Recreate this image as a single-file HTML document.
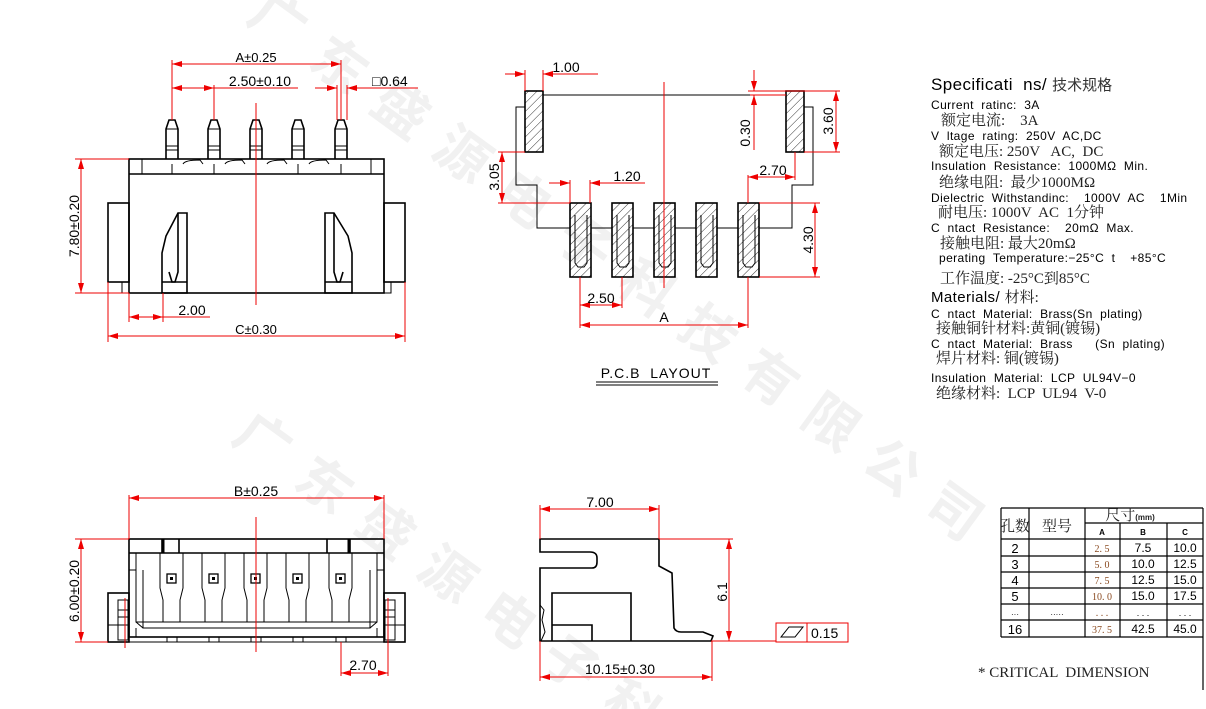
<!DOCTYPE html>
<html><head><meta charset="utf-8"><style>
html,body{margin:0;padding:0;background:#fff;overflow:hidden;width:1206px;height:709px;}
svg{display:block;overflow:hidden;}
text{white-space:pre;}
.k{stroke:#000;stroke-width:1.6;fill:none;}
.kt{stroke:#000;stroke-width:1;fill:none;}
.r{stroke:#e00;stroke-width:1;fill:none;}
.rt{fill:#000;font-family:"Liberation Sans",sans-serif;}
.sp{font-family:"Liberation Sans","Noto Sans CJK SC",sans-serif;fill:#000;font-size:12px;letter-spacing:0.4px;}
.cn{font-family:"Liberation Serif","Noto Serif CJK SC",serif;fill:#222;font-size:15px;letter-spacing:0;}
.wm{font-family:"Noto Sans CJK SC",sans-serif;fill:#f1f1f1;font-size:54px;font-weight:bold;}
</style></head><body>
<svg width="1206" height="709" viewBox="0 0 1206 709" xmlns="http://www.w3.org/2000/svg" xml:space="preserve">
<defs>
<marker id="a" viewBox="0 0 10 6" refX="10" refY="3" markerWidth="10" markerHeight="6" orient="auto-start-reverse"><path d="M0,0L10,3L0,6z" fill="#e00"/></marker>
<pattern id="h" width="6" height="6" patternUnits="userSpaceOnUse" patternTransform="rotate(45)"><line x1="0" y1="0" x2="0" y2="6" stroke="#000" stroke-width="0.8"/></pattern>
</defs>
<text class="wm" transform="translate(245,20) rotate(36)" letter-spacing="22">广东盛源电子科技有限公司</text>
<text class="wm" transform="translate(230,440) rotate(36)" letter-spacing="22">广东盛源电子科技有</text>

<!-- ===== TOP-LEFT VIEW ===== -->
<g>
<rect class="k" x="129" y="159" width="255" height="134"/>
<line class="k" x1="129" y1="174" x2="384" y2="174"/>
<line class="kt" x1="142" y1="159" x2="142" y2="174"/>
<line class="kt" x1="371" y1="159" x2="371" y2="174"/>
<rect class="k" x="108" y="203" width="21" height="79"/>
<rect class="k" x="384" y="203" width="21" height="79"/>
<rect class="kt" x="122" y="282" width="7" height="11"/>
<rect class="kt" x="384" y="282" width="7" height="11"/>
<g class="kt">
<path d="M172,174V164M214,174V164M256,174V164M298,174V164M341,174V164"/>
<path d="M183,164Q185,160 200,160L203,164M225,164Q227,160 242,160L245,164M267,164Q269,160 284,160L287,164M309,164Q311,160 326,160L329,164"/>
</g>
<g class="k">
<path d="M166,159V129L169,120H175L178,129V159"/>
<path d="M208,159V129L211,120H217L220,129V159"/>
<path d="M250,159V129L253,120H259L262,129V159"/>
<path d="M292,159V129L295,120H301L304,129V159"/>
<path d="M335,159V129L338,120H344L347,129V159"/>
</g>
<g class="kt">
<path d="M166,146H178M166,150H178M208,146H220M208,150H220M250,146H262M250,150H262M292,146H304M292,150H304M335,146H347M335,150H347M166,129H178M208,129H220M250,129H262M292,129H304M335,129H347"/>
</g>
<g class="k">
<path d="M178,213H187V293H162V253L166,236L178,213Z"/>
<path d="M178,213V272L175,282H172L169,272"/>
<line x1="162" y1="282" x2="187" y2="282"/>
<path d="M334,213H325V293H352V253L348,236L334,213Z"/>
<path d="M334,213V272L337,282H340L343,272"/>
<line x1="325" y1="282" x2="352" y2="282"/>
</g>
<line class="r" x1="256" y1="103" x2="256" y2="305"/>
<path class="r" d="M172,60V120M341,60V120M214,85V120M347,85V120M337,85V120"/>
<line class="r" x1="172" y1="64" x2="341" y2="64" marker-start="url(#a)" marker-end="url(#a)"/>
<text class="rt" x="256" y="62" font-size="13" text-anchor="middle">A±0.25</text>
<line class="r" x1="172" y1="88" x2="214" y2="88" marker-start="url(#a)" marker-end="url(#a)"/>
<line class="r" x1="214" y1="88" x2="298" y2="88"/>
<text class="rt" x="260" y="86" font-size="14" text-anchor="middle">2.50±0.10</text>
<line class="r" x1="315" y1="88" x2="337" y2="88" marker-end="url(#a)"/>
<line class="r" x1="418" y1="88" x2="347" y2="88" marker-end="url(#a)"/>
<text class="rt" x="372" y="86" font-size="14">□0.64</text>
<path class="r" d="M75,159H129M75,293H129"/>
<line class="r" x1="81" y1="159" x2="81" y2="293" marker-start="url(#a)" marker-end="url(#a)"/>
<text class="rt" transform="translate(79,226) rotate(-90)" font-size="14" text-anchor="middle">7.80±0.20</text>
<path class="r" d="M129,293V322M163,293V322M108,282V342M405,282V342"/>
<line class="r" x1="129" y1="317" x2="163" y2="317" marker-start="url(#a)" marker-end="url(#a)"/>
<line class="r" x1="163" y1="317" x2="210" y2="317"/>
<text class="rt" x="192" y="315" font-size="14" text-anchor="middle">2.00</text>
<line class="r" x1="108" y1="336" x2="405" y2="336" marker-start="url(#a)" marker-end="url(#a)"/>
<text class="rt" x="256" y="334" font-size="13" text-anchor="middle">C±0.30</text>
</g>

<!-- ===== PCB LAYOUT ===== -->
<g>
<path class="kt" d="M543,95H786M525,107H516V185H537V228H570M591,228H612M633,228H654M675,228H696M717,228H738M759,228H792V185H813V107H804"/>
<rect x="525" y="91" width="18" height="61" fill="url(#h)" stroke="#000" stroke-width="1.6"/>
<rect x="786" y="91" width="18" height="61" fill="url(#h)" stroke="#000" stroke-width="1.6"/>
<g stroke="#000" stroke-width="1.6" fill="url(#h)">
<rect x="570" y="203" width="21" height="74"/>
<rect x="612" y="203" width="21" height="74"/>
<rect x="654" y="203" width="21" height="74"/>
<rect x="696" y="203" width="21" height="74"/>
<rect x="738" y="203" width="21" height="74"/>
</g>
<g class="kt">
<path d="M575,215V263L578,267H584L587,263V215M617,215V263L620,267H626L629,263V215M659,215V263L662,267H668L671,263V215M701,215V263L704,267H710L713,263V215M743,215V263L746,267H752L755,263V215"/>
</g>
<line class="r" x1="664" y1="82" x2="664" y2="288"/>
<path class="r" d="M525,70V91M543,70V91"/>
<line class="r" x1="505" y1="74" x2="525" y2="74" marker-end="url(#a)"/>
<line class="r" x1="598" y1="74" x2="543" y2="74" marker-end="url(#a)"/>
<text class="rt" x="566" y="72" font-size="14" text-anchor="middle">1.00</text>
<path class="r" d="M748,91H840M804,152H840M750,95H786"/>
<line class="r" x1="754" y1="70" x2="754" y2="91" marker-end="url(#a)"/>
<line class="r" x1="754" y1="150" x2="754" y2="95" marker-end="url(#a)"/>
<text class="rt" transform="translate(750,133) rotate(-90)" font-size="14" text-anchor="middle">0.30</text>
<line class="r" x1="836" y1="91" x2="836" y2="152" marker-start="url(#a)" marker-end="url(#a)"/>
<text class="rt" transform="translate(833,121) rotate(-90)" font-size="14" text-anchor="middle">3.60</text>
<path class="r" d="M498,152H525M498,203H570"/>
<line class="r" x1="502" y1="152" x2="502" y2="203" marker-start="url(#a)" marker-end="url(#a)"/>
<text class="rt" transform="translate(499,177) rotate(-90)" font-size="14" text-anchor="middle">3.05</text>
<path class="r" d="M570,180V203M590,180V203"/>
<line class="r" x1="549" y1="183" x2="570" y2="183" marker-end="url(#a)"/>
<line class="r" x1="645" y1="183" x2="590" y2="183" marker-end="url(#a)"/>
<text class="rt" x="627" y="181" font-size="14" text-anchor="middle">1.20</text>
<path class="r" d="M748,175V203M795,152V180"/>
<line class="r" x1="748" y1="177" x2="795" y2="177" marker-start="url(#a)" marker-end="url(#a)"/>
<text class="rt" x="773" y="175" font-size="14" text-anchor="middle">2.70</text>
<path class="r" d="M759,203H820M759,277H820"/>
<line class="r" x1="815" y1="203" x2="815" y2="277" marker-start="url(#a)" marker-end="url(#a)"/>
<text class="rt" transform="translate(813,240) rotate(-90)" font-size="14" text-anchor="middle">4.30</text>
<path class="r" d="M580,277V328M622,277V308M748,277V328"/>
<line class="r" x1="580" y1="305" x2="622" y2="305" marker-start="url(#a)" marker-end="url(#a)"/>
<text class="rt" x="601" y="303" font-size="14" text-anchor="middle">2.50</text>
<line class="r" x1="580" y1="325" x2="748" y2="325" marker-start="url(#a)" marker-end="url(#a)"/>
<text class="rt" x="664" y="322" font-size="14" text-anchor="middle">A</text>
<text class="rt" x="656" y="378" font-size="14" text-anchor="middle" letter-spacing="1">P.C.B  LAYOUT</text>
<path stroke="#000" stroke-width="1" d="M596,382H718M596,385H718"/>
</g>

<!-- ===== BOTTOM-LEFT VIEW ===== -->
<g>
<rect class="k" x="129" y="539" width="255" height="98"/>
<line class="k" x1="129" y1="553" x2="384" y2="553"/>
<path class="k" d="M162,539V553M179,539V553M327,539V553M350,539V553"/>
<line x1="163" y1="539" x2="163" y2="553" stroke="#000" stroke-width="3"/>
<line x1="349" y1="539" x2="349" y2="553" stroke="#000" stroke-width="3"/>
<path class="kt" d="M136,553V570H129M377,553V570H384M136,570V622H377V570M143,570V628H370V570M136,622L143,628M377,622L370,628"/>
<path class="kt" d="M136,628V637M377,628V637"/>
<g class="kt">
<path d="M160,553V588L163,600V622M183,553V588L180,600V622"/>
<path d="M202,553V588L205,600V622M225,553V588L222,600V622"/>
<path d="M244,553V588L247,600V622M267,553V588L264,600V622"/>
<path d="M286,553V588L289,600V622M309,553V588L306,600V622"/>
<path d="M329,553V588L332,600V622M352,553V588L349,600V622"/>
</g>
<g stroke="#000" stroke-width="1.3" fill="#fff">
<rect x="167" y="574" width="9" height="9"/><rect x="209" y="574" width="9" height="9"/><rect x="251" y="574" width="9" height="9"/><rect x="293" y="574" width="9" height="9"/><rect x="336" y="574" width="9" height="9"/>
</g>
<g fill="#000"><rect x="170" y="577" width="3" height="3"/><rect x="212" y="577" width="3" height="3"/><rect x="254" y="577" width="3" height="3"/><rect x="296" y="577" width="3" height="3"/><rect x="339" y="577" width="3" height="3"/></g>
<g class="kt">
<rect x="167" y="637" width="10" height="5"/><rect x="209" y="637" width="10" height="5"/><rect x="251" y="637" width="10" height="5"/><rect x="293" y="637" width="10" height="5"/><rect x="336" y="637" width="10" height="5"/>
<path d="M129,642H384"/>
</g>
<rect class="k" x="108" y="593" width="21" height="49"/>
<rect class="k" x="384" y="593" width="21" height="49"/>
<path class="kt" d="M118,600H128V640H118ZM108,625H129M395,600H385V640H395ZM405,625H384M118,610H128M118,617H128M385,610H395M385,617H395"/>
<line class="r" x1="256" y1="517" x2="256" y2="652"/>
<path class="r" d="M129,495V539M384,495V539"/>
<line class="r" x1="129" y1="498" x2="384" y2="498" marker-start="url(#a)" marker-end="url(#a)"/>
<text class="rt" x="256" y="496" font-size="14" text-anchor="middle">B±0.25</text>
<path class="r" d="M75,539H129M75,642H108"/>
<line class="r" x1="81" y1="539" x2="81" y2="642" marker-start="url(#a)" marker-end="url(#a)"/>
<text class="rt" transform="translate(79,591) rotate(-90)" font-size="14" text-anchor="middle">6.00±0.20</text>
<path class="r" d="M125,598V648M388,598V676M341,642V676"/>
<line class="r" x1="341" y1="673" x2="388" y2="673" marker-start="url(#a)" marker-end="url(#a)"/>
<text class="rt" x="363" y="670" font-size="14" text-anchor="middle">2.70</text>
</g>

<!-- ===== SIDE VIEW ===== -->
<g>
<path class="k" d="M540,539H659V566L672,573L674,628Q676,632 681,632H703L713,636L711,641H540V568H592Q597,568 597,562V558Q597,552 590,552H540Z"/>
<path class="k" d="M552,641V593H631V641M552,625H592V641"/>
<path class="kt" d="M540,605L544,610L542,620L545,632L541,641"/>
<path class="r" d="M540,505V539M659,505V539M540,641V681M712,641V681M659,539H733"/>
<line class="r" x1="540" y1="509" x2="659" y2="509" marker-start="url(#a)" marker-end="url(#a)"/>
<text class="rt" x="600" y="507" font-size="14" text-anchor="middle">7.00</text>
<line class="r" x1="729" y1="539" x2="729" y2="641" marker-start="url(#a)" marker-end="url(#a)"/>
<text class="rt" transform="translate(727,592) rotate(-90)" font-size="14" text-anchor="middle">6.1</text>
<line class="r" x1="711" y1="641" x2="776" y2="641"/>
<rect class="r" x="776" y="623" width="72" height="19"/>
<line class="r" x1="807" y1="623" x2="807" y2="642"/>
<path stroke="#000" stroke-width="1" fill="none" d="M781,637L789,627H803L795,637Z"/>
<text class="rt" x="811" y="638" font-size="14">0.15</text>
<line class="r" x1="540" y1="677" x2="712" y2="677" marker-start="url(#a)" marker-end="url(#a)"/>
<text class="rt" x="620" y="674" font-size="14" text-anchor="middle">10.15±0.30</text>
</g>

<!-- ===== SPECS ===== -->
<g>
<text class="sp" x="931" y="90" style="font-size:17px">Specificati  ns/ <tspan font-family="Noto Sans CJK SC" style="font-size:15px;letter-spacing:0" fill="#333">技术规格</tspan></text>
<text class="sp" x="931" y="109">Current  ratinc:  3A</text>
<text class="cn" x="941" y="125">额定电流:    3A</text>
<text class="sp" x="931" y="140">V  ltage  rating:  250V  AC,DC</text>
<text class="cn" x="939" y="156">额定电压: 250V   AC,  DC</text>
<text class="sp" x="931" y="170">Insulation  Resistance:  1000MΩ  Min.</text>
<text class="cn" x="939" y="187">绝缘电阻:  最少1000MΩ</text>
<text class="sp" x="931" y="202">Dielectric  Withstandinc:    1000V  AC    1Min</text>
<text class="cn" x="938" y="217">耐电压: 1000V  AC  1分钟</text>
<text class="sp" x="931" y="232">C  ntact  Resistance:    20mΩ  Max.</text>
<text class="cn" x="940" y="248">接触电阻: 最大20mΩ</text>
<text class="sp" x="939" y="262">perating  Temperature:−25°C  t    +85°C</text>
<text class="cn" x="940" y="283">工作温度: -25°C到85°C</text>
<text class="sp" x="931" y="302" style="font-size:15px">Materials/ <tspan class="cn">材料:</tspan></text>
<text class="sp" x="931" y="318">C  ntact  Material:  Brass(Sn  plating)</text>
<text class="cn" x="936" y="333">接触铜针材料:黄铜(镀锡)</text>
<text class="sp" x="931" y="348">C  ntact  Material:  Brass      (Sn  plating)</text>
<text class="cn" x="936" y="363">焊片材料: 铜(镀锡)</text>
<text class="sp" x="931" y="382">Insulation  Material:  LCP  UL94V−0</text>
<text class="cn" x="936" y="398">绝缘材料:  LCP  UL94  V-0</text>
</g>

<!-- ===== TABLE ===== -->
<g>
<path stroke="#000" stroke-width="1.2" fill="none" d="M1001,508H1203M1085,523H1203M1001,539H1203M1001,556H1203M1001,572H1203M1001,588H1203M1001,604H1203M1001,620H1203M1001,637H1203M1001,508V637M1029,508V637M1085,508V637M1120,523V637M1167,523V637M1203,508V690"/>
<text class="cn" x="1015" y="531" font-size="13" text-anchor="middle">孔数</text>
<text class="cn" x="1057" y="531" font-size="13" text-anchor="middle">型号</text>
<text class="cn" x="1130" y="520" font-size="13" text-anchor="middle">尺寸<tspan font-family="Liberation Sans" font-size="8" font-weight="bold">(mm)</tspan></text>
<g font-family="Liberation Sans" font-size="8" font-weight="bold" text-anchor="middle"><text x="1102" y="535">A</text><text x="1143" y="535">B</text><text x="1185" y="535">C</text></g>
<g font-family="Liberation Sans" font-size="13" text-anchor="middle">
<text x="1015" y="553">2</text><text x="1015" y="569">3</text><text x="1015" y="585">4</text><text x="1015" y="601">5</text><text x="1015" y="617" font-size="8">···</text><text x="1015" y="634">16</text>
<text x="1057" y="617" font-size="8">·····</text>
</g>
<g font-family="Liberation Serif" font-size="10" fill="#8a4a20" text-anchor="middle">
<text x="1102" y="552">2. 5</text><text x="1102" y="568">5. 0</text><text x="1102" y="584">7. 5</text><text x="1102" y="600">10. 0</text><text x="1102" y="616">. . .</text><text x="1102" y="633">37. 5</text>
</g>
<g font-family="Liberation Sans" font-size="12" text-anchor="middle">
<text x="1143" y="552">7.5</text><text x="1143" y="568">10.0</text><text x="1143" y="584">12.5</text><text x="1143" y="600">15.0</text><text x="1143" y="616" font-size="9">. . .</text><text x="1143" y="633">42.5</text>
<text x="1185" y="552">10.0</text><text x="1185" y="568">12.5</text><text x="1185" y="584">15.0</text><text x="1185" y="600">17.5</text><text x="1185" y="616" font-size="9">. . .</text><text x="1185" y="633">45.0</text>
</g>
<text x="978" y="677" font-family="Liberation Serif" font-size="15" fill="#222">* CRITICAL  DIMENSION</text>
</g>
</svg>
</body></html>
